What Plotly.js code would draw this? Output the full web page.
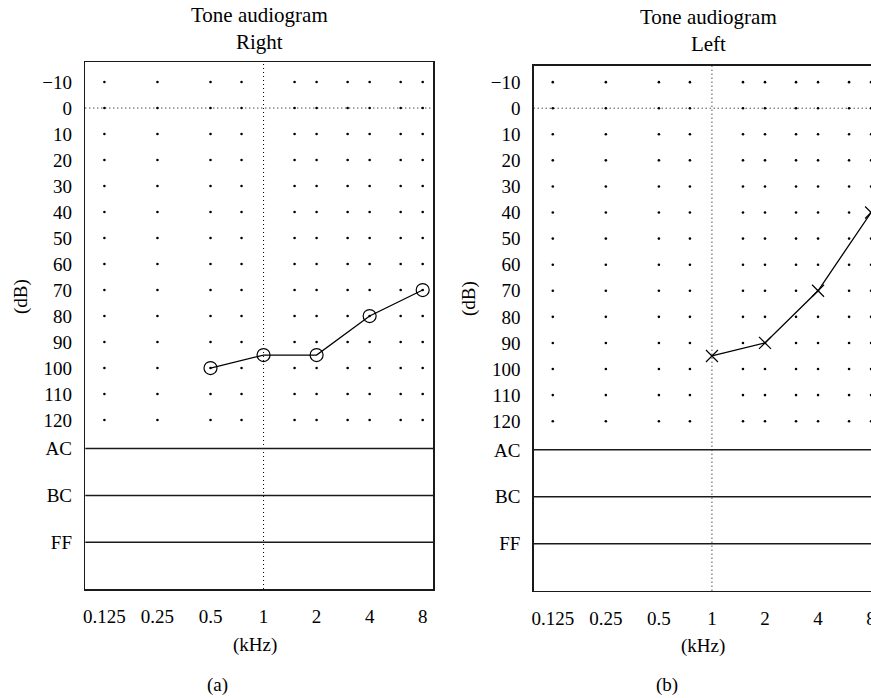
<!DOCTYPE html>
<html><head><meta charset="utf-8">
<script src="https://cdn.plot.ly/plotly-3.0.1.min.js"></script>
<style>html,body{margin:0;padding:0;overflow:hidden;background:#fff}#chart{width:890px;height:698px}</style>
</head><body><div id="chart"></div>
<script>
// ---- data ----
const freqTicks = [0.125, 0.25, 0.5, 1, 2, 4, 8];
const freqTickText = ['0.125', '0.25', '0.5', '1', '2', '4', '8'];
const gridFreqs = [0.125, 0.25, 0.5, 0.75, 1.5, 2, 3, 4, 6, 8];
const gridLevels = [-10, 0, 10, 20, 30, 40, 50, 60, 70, 80, 90, 100, 110, 120];
const levelTicks = [-10, 0, 10, 20, 30, 40, 50, 60, 70, 80, 90, 100, 110, 120, 131, 149, 167];
const levelTickText = ['\u221210', '0', '10', '20', '30', '40', '50', '60', '70', '80', '90', '100', '110', '120', 'AC', 'BC', 'FF'];
const rowLinePos = [131, 149, 167];
const refFreq = 1;
const refLevel = 0;
const rightEarFreq = [0.5, 1, 2, 4, 8];
const rightEarDb = [100, 95, 95, 80, 70];
const leftEarFreq = [1, 2, 4, 8];
const leftEarDb = [95, 90, 70, 40];

// ---- build ----
const W = 890, H = 698;
const FONT = 'Liberation Serif, Times New Roman, serif';
const gx = [], gy = [];
gridLevels.forEach(l => gridFreqs.forEach(f => { gx.push(f); gy.push(l); }));

function panelTraces(xa, ya, fx, fy, sym, size) {
  return [
    {x: gx, y: gy, xaxis: xa, yaxis: ya, mode: 'markers', type: 'scatter', hoverinfo: 'skip',
     marker: {size: 2.6, color: '#000'}, showlegend: false},
    {x: fx, y: fy, xaxis: xa, yaxis: ya, mode: 'lines+markers', type: 'scatter', showlegend: false,
     line: {color: '#000', width: 1.3},
     marker: {symbol: sym, size: size, color: '#000', line: {color: '#000', width: 1.2}}}
  ];
}
const data = [].concat(
  panelTraces('x', 'y', rightEarFreq, rightEarDb, 'circle-open', 13),
  panelTraces('x2', 'y2', leftEarFreq, leftEarDb, 'x-thin-open', 12)
);

const xr = [-1.0115, 0.9616];
function xaxis(dom) {
  return {type: 'log', range: xr, domain: dom, tickvals: freqTicks, ticktext: freqTickText,
    showgrid: false, zeroline: false, ticks: '', showline: true, mirror: true,
    linecolor: '#1a1a1a', linewidth: 1.5, ticklabelstandoff: 10,
    tickfont: {family: FONT, size: 19, color: '#000'}, fixedrange: true};
}
function yaxis(dom, rng, anchor) {
  return {range: rng, domain: dom, anchor: anchor, tickvals: levelTicks, ticktext: levelTickText,
    showgrid: false, zeroline: false, ticks: '', showline: true, mirror: true,
    linecolor: '#1a1a1a', linewidth: 1.5, ticklabelstandoff: 8,
    tickfont: {family: FONT, size: 19, color: '#000'}, fixedrange: true};
}
const shapes = [];
[['x', 'y'], ['x2', 'y2']].forEach(([xa, ya]) => {
  rowLinePos.forEach(p => shapes.push({type: 'line', xref: xa + ' domain', yref: ya, x0: 0, x1: 1, y0: p, y1: p,
    line: {color: '#1a1a1a', width: 1.5}}));
  shapes.push({type: 'line', xref: xa, yref: ya + ' domain', x0: refFreq, x1: refFreq, y0: 0, y1: 1,
    line: {color: '#000', width: 1, dash: '1px,3px'}, layer: 'below'});
  shapes.push({type: 'line', xref: xa + ' domain', yref: ya, x0: 0, x1: 1, y0: refLevel, y1: refLevel,
    line: {color: '#000', width: 1, dash: '1px,3px'}, layer: 'below'});
});

function px(v) { return v / W; }
function py(v) { return 1 - v / H; }
const txt = {family: FONT, size: 19, color: '#000'};
const annotations = [
  {text: 'Tone audiogram<br>Right', xref: 'paper', yref: 'paper', x: px(259), y: py(28), xanchor: 'center', yanchor: 'middle', showarrow: false, font: {family: FONT, size: 21, color: '#000'}},
  {text: 'Tone audiogram<br>Left', xref: 'paper', yref: 'paper', x: px(708), y: py(30), xanchor: 'center', yanchor: 'middle', showarrow: false, font: {family: FONT, size: 21, color: '#000'}},
  {text: '(kHz)', xref: 'paper', yref: 'paper', x: px(255), y: py(645), xanchor: 'center', yanchor: 'middle', showarrow: false, font: txt},
  {text: '(kHz)', xref: 'paper', yref: 'paper', x: px(703), y: py(646), xanchor: 'center', yanchor: 'middle', showarrow: false, font: txt},
  {text: '(dB)', xref: 'paper', yref: 'paper', x: px(21), y: py(297), xanchor: 'center', yanchor: 'middle', textangle: -90, showarrow: false, font: txt},
  {text: '(dB)', xref: 'paper', yref: 'paper', x: px(469), y: py(299), xanchor: 'center', yanchor: 'middle', textangle: -90, showarrow: false, font: txt},
  {text: '(a)', xref: 'paper', yref: 'paper', x: px(217), y: py(685), xanchor: 'center', yanchor: 'middle', showarrow: false, font: txt},
  {text: '(b)', xref: 'paper', yref: 'paper', x: px(667), y: py(685), xanchor: 'center', yanchor: 'middle', showarrow: false, font: txt}
];

const layout = {
  width: W, height: H, margin: {l: 0, r: 0, t: 0, b: 0},
  paper_bgcolor: '#fff', plot_bgcolor: '#fff', showlegend: false,
  xaxis: xaxis([px(85.3), px(433)]),
  yaxis: yaxis([py(589), py(62.3)], [185, -17.6], 'x'),
  xaxis2: Object.assign(xaxis([px(533.7), px(881.4)]), {anchor: 'y2'}),
  yaxis2: yaxis([py(590.7), py(65.7)], [185, -16.3], 'x2'),
  shapes: shapes, annotations: annotations
};
layout.xaxis.anchor = 'y';
Plotly.newPlot('chart', data, layout, {displayModeBar: false, staticPlot: true});
</script></body></html>
